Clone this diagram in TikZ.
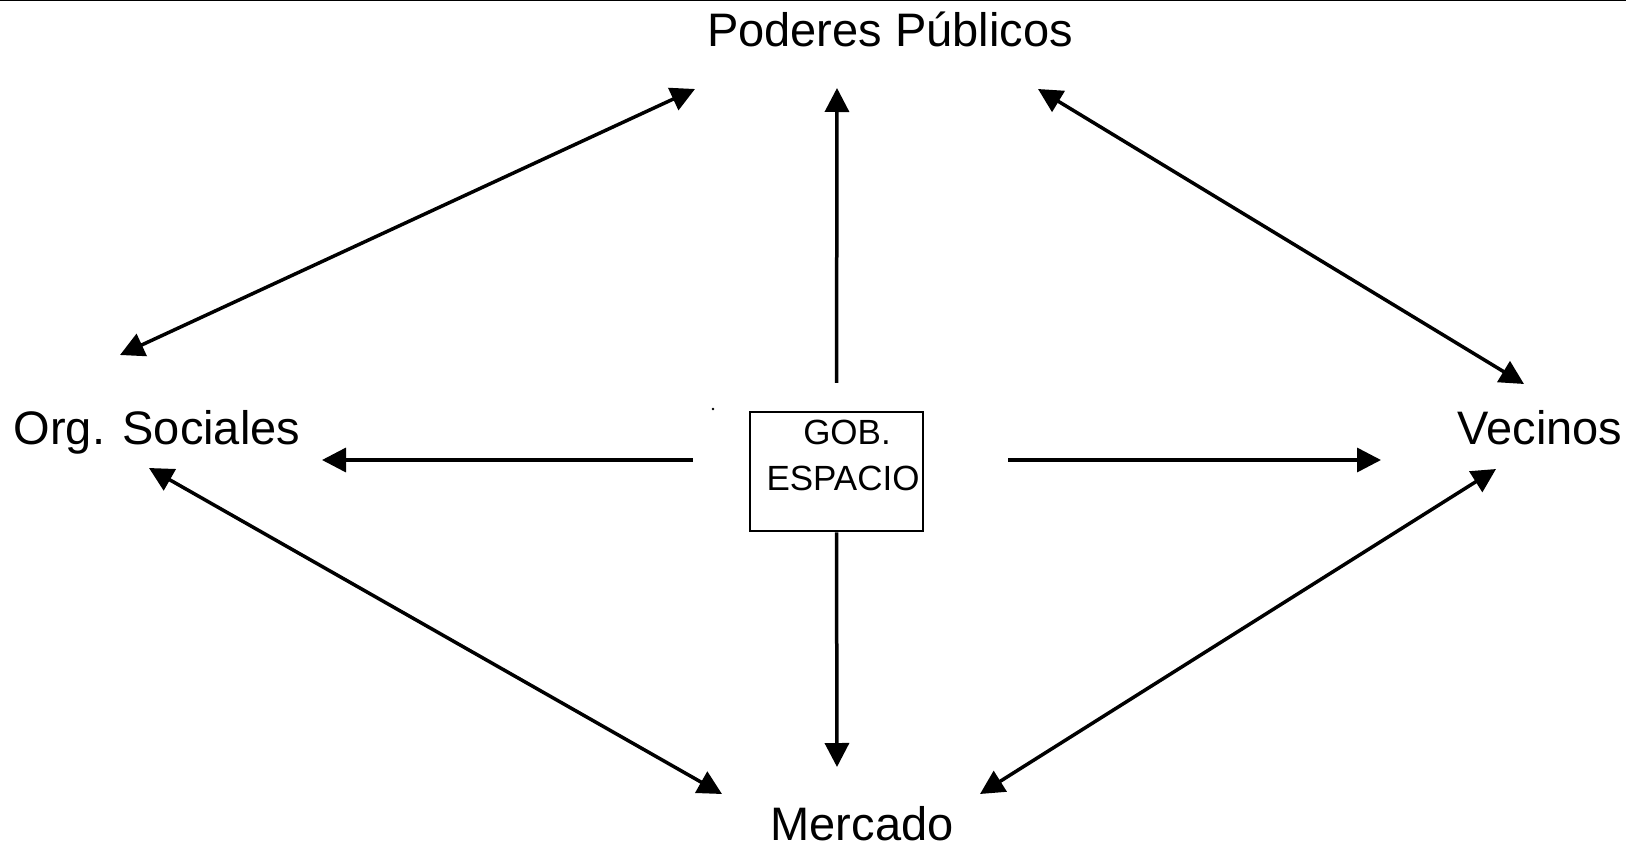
\documentclass[tikz,border=0pt]{standalone}
\usepackage{fontspec}
\setmainfont{Liberation Sans}
\usetikzlibrary{arrows.meta}

\begin{document}
\begin{tikzpicture}[x=1pt,y=-1pt,
  >={Triangle[length=24pt,width=24pt]},
  lbl/.style={font=\fontsize{47}{56}\selectfont,inner sep=0pt,anchor=base},
  boxtxt/.style={font=\fontsize{35}{42}\selectfont,inner sep=0pt,anchor=base},
  link/.style={line width=3.5pt},
  gobbox/.style={draw,line width=2.5pt,minimum width=173pt,minimum height=119pt,inner sep=0pt}]
\fill[white] (0,0) rectangle (1645,851);
\useasboundingbox (0,0) rectangle (1645,851);
\draw[line width=1.5pt] (0,0.75) -- (1626,0.75);

% Actors
\node[lbl] (pod) at (890,47) {Poderes Públicos};
\node[lbl] (org) at (157,444) {Org. Sociales};
\node[lbl] (vec) at (1540,444) {Vecinos};
\node[lbl] (mer) at (862,840) {Mercado};

% Centre box
\node[gobbox] (gob) at (836.5,471.5) {};
\node[boxtxt] (gob1) at (847,444) {GOB.};
\node[boxtxt] (gob2) at (843,490) {ESPACIO};
\fill (713,409) circle (1.3);

% Arrow ends
\coordinate (pod-w) at (695,89);
\coordinate (pod-s) at (837,88);
\coordinate (pod-e) at (1038,89);
\coordinate (org-n) at (120,355);
\coordinate (org-e) at (322,460);
\coordinate (org-s) at (149,468);
\coordinate (vec-n) at (1524,384);
\coordinate (vec-w) at (1381,460);
\coordinate (vec-s) at (1496,469);
\coordinate (mer-w) at (722,794);
\coordinate (mer-n) at (837,767);
\coordinate (mer-e) at (980,794);

% From the box
\draw[link,->,shorten <=28pt] (gob.north) -- (pod-s);
\draw[link,->] (gob.south) -- (mer-n);
\draw[link,->,shorten <=56pt] (gob.west |- org-e) -- (org-e);
\draw[link,->,shorten <=84pt] (gob.east |- vec-w) -- (vec-w);

% Between actors
\draw[link,<->] (org-n) -- (pod-w);
\draw[link,<->] (pod-e) -- (vec-n);
\draw[link,<->] (org-s) -- (mer-w);
\draw[link,<->] (mer-e) -- (vec-s);
\end{tikzpicture}
\end{document}
